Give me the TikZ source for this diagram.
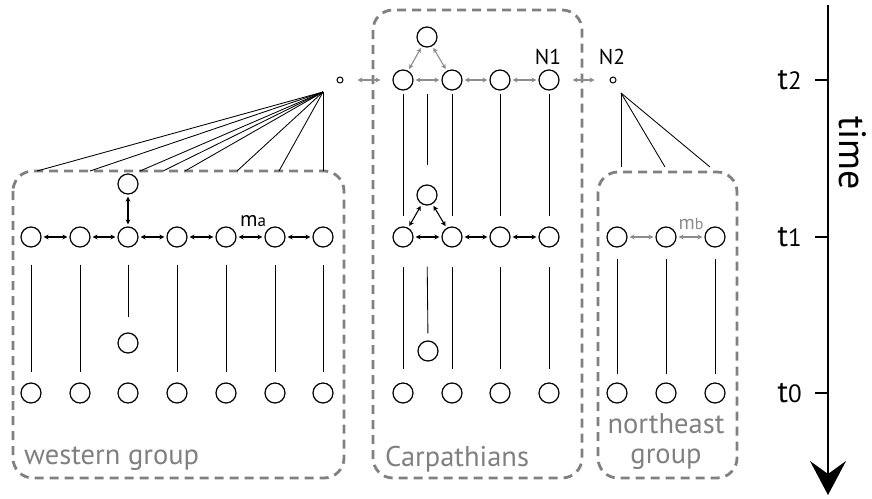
\documentclass[tikz,border=0pt]{standalone}
\usepackage{fontspec}
\setmainfont{PT Sans}
\usetikzlibrary{arrows.meta,calc}
\definecolor{boxgray}{HTML}{808080}
\definecolor{arrgray}{HTML}{8C8C8C}
\tikzset{
  pop/.style={circle, draw, line width=1.2pt, minimum size=20pt, inner sep=0pt},
  tinydot/.style={circle, draw, line width=1pt, minimum size=6pt, inner sep=0pt},
  lin/.style={line width=0.85pt},
  barr/.style={{Stealth[length=5pt,width=5pt]}-{Stealth[length=5pt,width=5pt]}, line width=1.1pt, shorten <=2pt, shorten >=2pt},
  garr/.style={barr, draw=arrgray},
  grp/.style={draw=boxgray, line width=2.8pt, rounded corners=20pt, dash pattern=on 9pt off 6pt},
  grplabel/.style={text=boxgray, font=\fontsize{28.5}{30}\selectfont, inner sep=0pt},
  small/.style={font=\fontsize{21.5}{23}\selectfont, inner sep=0pt},
  tlab/.style={font=\fontsize{31}{33}\selectfont, inner sep=0pt}
}
\begin{document}
\begin{tikzpicture}[x=1pt,y=-1pt]
\useasboundingbox (0,0) rectangle (872,498);
% group boxes
\draw[grp] (13,171) rectangle (344,478);
\draw[grp] (373,10) rectangle (582,478);
\draw[grp] (598,172) rectangle (737,478);
\node[grplabel, anchor=west] (lw) at (24,459) {western group};
\node[grplabel, anchor=west] (lc) at (385,459) {Carpathians};
\node[grplabel] (ln1) at (666,424) {northeast};
\node[grplabel] (ln2) at (666,459) {group};

% western group
\foreach \i/\x in {1/31,2/80,3/128,4/177,5/226,6/275,7/323}{
  \node[pop] (wa\i) at (\x,237) {};
  \node[pop] (wz\i) at (\x,393) {};
}
\node[pop] (wtop) at (128,184) {};
\node[pop] (wmid) at (128,343) {};
\foreach \i/\j in {1/2,2/3,3/4,4/5,5/6,6/7}{\draw[barr] (wa\i) -- (wa\j);}
\draw[barr] (wtop) -- (wa3);
\foreach \i in {1,2,4,5,6,7}{\draw[lin, shorten <=17pt, shorten >=10pt] (wa\i.south) -- (wz\i.north);}
\draw[lin, shorten <=17pt, shorten >=15pt] (wa3.south) -- (wmid.north);
\node[small, anchor=base] (ma) at (253,226) {m{\fontsize{17}{18}\selectfont a}};

% western ancestor
\node[tinydot] (d1) at (340,80) {};
\coordinate (ap1) at (323,92);
\foreach \k/\x in {1/37,2/90,3/140,4/163,5/185,6/237,7/279,8/323}{
  \coordinate (wt\k) at (\x,171);
  \draw[lin] (ap1) -- (wt\k);
}

% Carpathians
\foreach \i/\x in {1/403,2/452,3/500,4/549}{
  \node[pop] (cb\i) at (\x,80) {};
  \node[pop] (ca\i) at (\x,237) {};
  \node[pop] (cz\i) at (\x,393) {};
}
\node[pop] (ctopb) at (427,37) {};
\node[pop] (ctopa) at (427,195) {};
\node[pop] (cmid) at (428,351) {};
\foreach \i/\j in {1/2,2/3,3/4}{
  \draw[garr] (cb\i) -- (cb\j);
  \draw[barr] (ca\i) -- (ca\j);
}
\draw[garr] (ctopb) -- (cb1);
\draw[garr] (ctopb) -- (cb2);
\draw[barr] (ctopa) -- (ca1);
\draw[barr] (ctopa) -- (ca2);
\draw[garr, shorten <=14pt, shorten >=12pt] (d1) -- (cb1);
\foreach \i in {1,2,3,4}{
  \draw[lin, shorten <=3pt, shorten >=10pt] (cb\i.south) -- (ca\i.north);
  \draw[lin, shorten <=19pt, shorten >=13pt] (ca\i.south) -- (cz\i.north);
}
\draw[lin, shorten <=3pt, shorten >=19pt] (ctopb |- cb1.south) -- (ctopa.north);
\draw[lin, shorten <=19pt, shorten >=7pt] (ctopa |- ca1.south) -- (cmid.north);
\node[small, anchor=base] (n1) at (548,64) {N1};

% northeast
\node[tinydot] (d2) at (613,80) {};
\node[small, anchor=base] (n2) at (612,64) {N2};
\draw[garr, shorten <=13pt, shorten >=15pt] (cb4) -- (d2);
\foreach \i/\x in {1/617,2/666,3/715}{
  \node[pop] (na\i) at (\x,237) {};
  \node[pop] (nz\i) at (\x,393) {};
  \draw[lin, shorten <=11pt, shorten >=8pt] (na\i.south) -- (nz\i.north);
}
\draw[garr] (na1) -- (na2);
\draw[garr] (na2) -- (na3);
\node[anchor=base, inner sep=0pt, text=arrgray, font=\fontsize{20}{22}\selectfont] (mb) at (691,229) {m{\fontsize{16}{17}\selectfont b}};
\coordinate (ap2) at (621,93);
\foreach \k/\x in {1/621,2/665,3/710}{
  \coordinate (nt\k) at (\x,167);
  \draw[lin] (ap2) -- (nt\k);
}

% time axis
\coordinate (tstart) at (828,5);
\coordinate (tend) at (828,495);
\draw[line width=2.8pt, -{Stealth[length=34pt, width=36pt, inset=13pt]}] (tstart) -- (tend);
\foreach \n/\y in {2/80,1/237,0/393}{
  \coordinate (tk\n) at (828,\y);
  \coordinate (tl\n) at (815,\y);
  \draw[line width=2.8pt] (tl\n) -- (tk\n);
  \node[tlab, anchor=east] (t\n) at (802,\y) {t{\fontsize{25}{27}\selectfont \n}};
}
\node[tlab, rotate=-90, font=\fontsize{38}{40}\selectfont] (time) at (853,153) {time};
\end{tikzpicture}
\end{document}
